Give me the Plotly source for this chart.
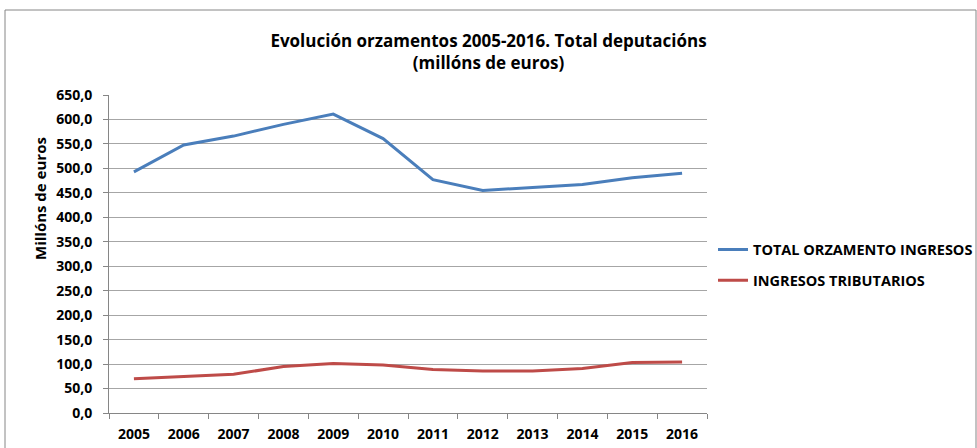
import plotly.graph_objects as go

years = ["2005", "2006", "2007", "2008", "2009", "2010", "2011", "2012", "2013", "2014", "2015", "2016"]
total_ingresos = [493, 548, 566, 590, 611, 561, 477, 455, 461, 467, 481, 490]
ingresos_tributarios = [70, 75, 79, 95, 101, 98, 89, 86, 86, 91, 103, 104]
y_ticks = [0, 50, 100, 150, 200, 250, 300, 350, 400, 450, 500, 550, 600, 650]

FONT = "'Open Sans', Lato, sans-serif"

fig = go.Figure()
fig.add_trace(go.Scatter(x=years, y=total_ingresos, mode="lines", name="TOTAL ORZAMENTO INGRESOS",
                         legendgroup="a", line=dict(color="#4A7EBB", width=3)))
fig.add_trace(go.Scatter(x=years, y=ingresos_tributarios, mode="lines", name="INGRESOS TRIBUTARIOS",
                         legendgroup="b", line=dict(color="#BE4B48", width=3)))

L, R, T, B = 109, 270, 95, 35
W, H = 977, 448
pw, ph = W - L - R, H - T - B

def px_x(x):
    return (x - L) / pw

def px_y(y):
    return (H - B - y) / ph

def f(size):
    return dict(family=FONT, size=size, color="black", weight="bold")

fig.update_layout(
    width=W, height=H,
    margin=dict(l=L, r=R, t=T, b=B, autoexpand=False),
    paper_bgcolor="white", plot_bgcolor="white",
    separators=",.",
    font=f(13),
    title=dict(text="Evolución orzamentos 2005-2016. Total deputacións<br>(millóns de euros)",
               x=0.5, xanchor="center", y=1 - 47 / H, yanchor="middle",
               font=f(17)),
    showlegend=True,
    legend=dict(x=px_x(713), y=px_y(265), xanchor="left", yanchor="middle",
                font=f(14.5), tracegroupgap=9, itemwidth=30, bgcolor="rgba(0,0,0,0)"),
    xaxis=dict(type="category", range=[-0.5, 11.5], tickson="boundaries",
               ticks="outside", ticklen=5, tickcolor="#868686",
               showline=True, linecolor="#868686", linewidth=1,
               showgrid=False, tickfont=f(14), ticklabelstandoff=8),
    yaxis=dict(range=[0, 650], tickvals=y_ticks, tickformat=".1f",
               ticks="outside", ticklen=5, tickcolor="#868686",
               showline=True, linecolor="#868686", linewidth=1,
               showgrid=True, gridcolor="#A6A6A6", gridwidth=1,
               zeroline=False, ticklabelstandoff=8,
               tickfont=f(14)),
    annotations=[dict(text="Millóns de euros", textangle=-90, xref="paper", yref="paper",
                      x=px_x(40), y=px_y(199), xanchor="center", yanchor="middle",
                      showarrow=False, font=f(15))],
    shapes=[dict(type="rect", xref="paper", yref="paper",
                 x0=px_x(5), x1=px_x(976), y0=px_y(470), y1=px_y(10),
                 line=dict(color="#868686", width=1), fillcolor="rgba(0,0,0,0)", layer="below")],
)

fig.write_html("out.html", config={"displayModeBar": False},
               post_script="document.body.style.margin='0';document.body.style.padding='0';")
